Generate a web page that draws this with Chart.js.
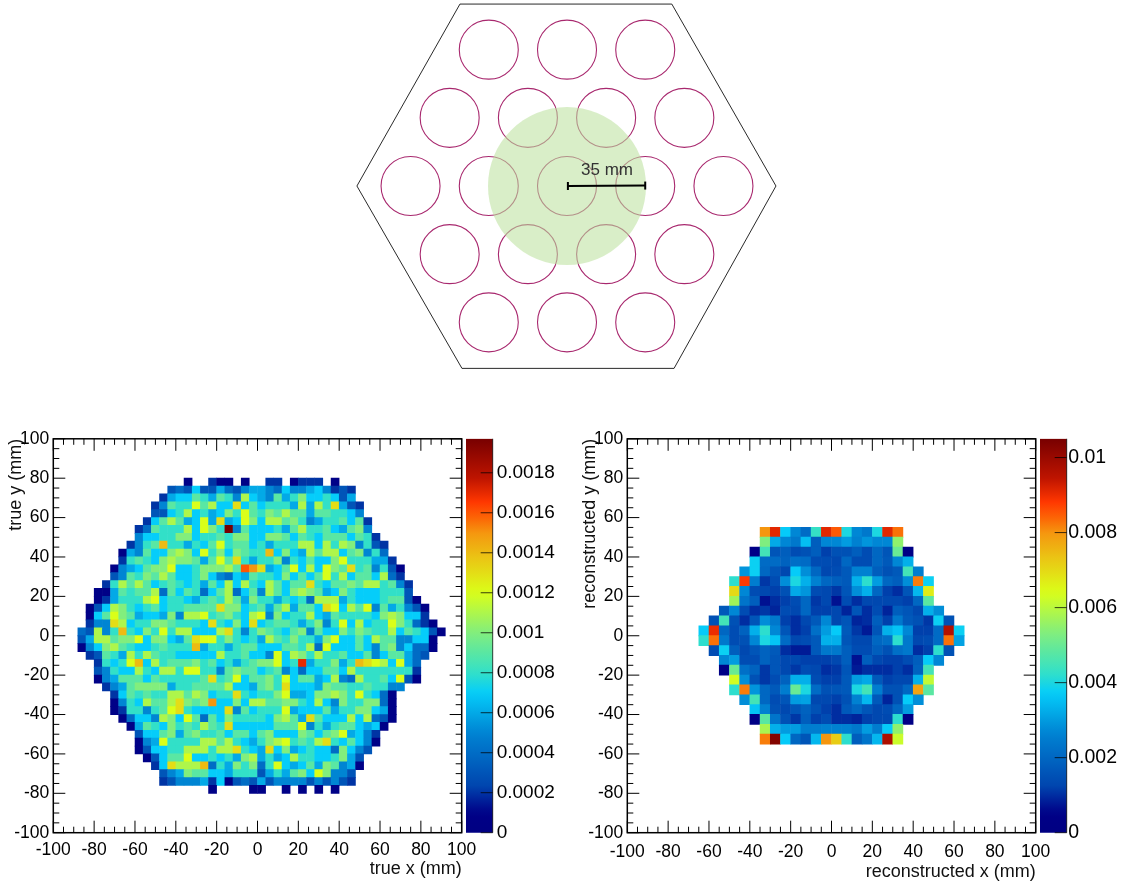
<!DOCTYPE html>
<html><head><meta charset="utf-8">
<script src="https://cdn.jsdelivr.net/npm/chart.js@4"></script>
<style>
html,body{margin:0;padding:0;background:#fff;width:1126px;height:888px;overflow:hidden}
canvas{position:absolute}
</style></head><body>
<canvas id="top" width="1126" height="400" style="left:0;top:0"></canvas>
<canvas id="h1" width="490" height="488" style="left:0;top:400px"></canvas>
<canvas id="p1" width="110" height="488" style="left:460px;top:400px"></canvas>
<canvas id="h2" width="490" height="488" style="left:574px;top:400px"></canvas>
<canvas id="p2" width="86" height="488" style="left:1034px;top:400px"></canvas>
<script>
// ---------- top diagram (millimetres) ----------
const hexX=[-47.9,46.9,93.5,47.9,-47,-94,-47.9];
const hexY=[81.4,81.4,0,-81.6,-81.6,0,81.4];
const holeX=[-35,0,35,-52.5,-17.5,17.5,52.5,-70,-35,0,35,70,-52.5,-17.5,17.5,52.5,-35,0,35];
const holeY=[61,61,61,30.5,30.5,30.5,30.5,0,0,0,0,0,-30.5,-30.5,-30.5,-30.5,-61,-61,-61];
const scaleBarX=[0.4,35];
const scaleBarY=[0,0.2];
const scaleBarLabel='35 mm';

// ---------- left map: true position, 4 mm bins, z in units of 1e-4 ----------
const leftFirstCol=[16,14,13,12,12,11,10,10,9,8,8,7,7,6,5,5,4,4,4,3,3,3,4,5,5,5,6,7,7,7,8,9,10,10,10,11,12,13,13,19];
const leftRows=[
[1,null,null,2,1,1,null,1,null,null,2,2,null,1,2,2,2,null,1],
[3,4,3,7,3,3,6,4,3,5,6,6,5,4,7,5,5,6,7,5,2,3,2],
[2,6,7,7,9,8,6,9,8,5,11,7,6,5,9,6,8,10,7,7,8,7,3,6],
[2,5,9,8,8,12,9,11,7,7,13,7,9,7,8,8,8,6,11,6,11,8,13,6,3,2],
[3,3,7,8,11,7,8,6,7,10,8,12,9,8,10,9,11,9,9,6,9,9,8,8,7,5],
[2,7,9,11,9,6,7,12,6,13,6,7,12,10,7,11,11,9,10,8,5,6,8,8,9,7,9,2],
[2,4,9,8,8,8,11,7,12,10,8,20,5,9,7,7,7,8,6,9,11,8,8,9,7,6,9,10,5],
[5,7,7,8,8,10,10,7,8,8,9,8,10,10,7,7,10,10,9,7,9,8,7,9,9,9,7,9,8,2],
[2,5,8,9,14,8,8,6,8,7,9,12,8,9,9,7,8,6,8,8,8,11,11,7,11,8,11,10,5,8,3,2],
[1,6,5,9,7,7,10,11,10,7,12,8,10,7,10,9,8,8,14,7,10,7,6,11,9,11,11,7,9,10,5,8,4],
[2,8,9,8,7,10,11,10,10,9,6,9,12,9,13,8,6,8,8,10,5,8,7,9,7,7,10,12,8,8,8,6,6,2],
[1,5,6,7,9,10,10,12,7,7,8,10,10,10,11,9,16,15,13,6,7,9,12,7,11,7,12,10,9,13,8,9,5,8,3,1],
[3,5,9,8,10,9,11,9,7,7,8,10,7,5,4,7,6,9,8,8,7,10,7,9,7,9,12,8,11,7,9,9,7,11,4,2],
[2,8,11,9,11,9,7,8,9,8,7,8,6,9,7,11,7,11,8,7,11,9,7,9,9,13,8,7,9,9,10,9,11,11,8,9,5,2],
[1,1,6,9,8,9,9,11,4,9,7,9,8,4,7,9,11,4,7,9,5,11,9,7,10,11,10,9,6,7,10,8,7,7,7,8,8,8,3],
[1,2,6,8,8,8,11,12,7,8,8,7,6,8,9,8,11,9,6,10,8,8,6,8,7,8,4,11,11,11,6,8,7,7,7,8,9,9,3,1],
[1,3,7,11,10,8,7,8,9,7,8,8,9,9,9,9,13,10,10,7,8,9,6,9,11,6,9,9,7,13,12,7,11,9,12,5,9,6,8,5,3,1],
[1,7,9,12,10,9,6,7,7,6,10,5,11,11,12,8,9,10,8,7,11,12,5,10,7,8,8,11,7,6,9,8,8,8,8,7,10,11,10,7,7,2],
[2,5,5,13,11,7,8,8,10,10,9,8,8,8,7,13,8,7,10,7,13,7,8,9,9,8,6,8,10,5,8,12,7,11,7,8,8,12,10,8,4,2,1],
[4,3,11,5,8,14,8,7,10,8,12,8,11,11,7,7,7,11,13,8,5,8,10,9,8,7,9,10,5,9,7,7,10,8,10,9,8,8,11,7,9,8,7,3,1],
[3,6,11,11,9,10,10,12,7,10,10,7,6,9,13,12,12,8,10,8,7,8,6,11,9,8,10,8,8,6,10,12,7,7,9,7,11,9,9,5,5,7,7,1],
[1,5,7,10,11,9,8,7,7,8,9,8,8,8,14,6,8,8,6,8,9,9,7,7,7,9,9,8,11,4,12,7,7,7,9,7,5,9,10,5,7,4,4,1],
[2,3,9,8,6,11,8,11,9,8,8,7,7,7,7,7,11,8,8,9,7,7,5,12,7,11,10,8,11,8,8,9,7,7,9,5,7,9,9,6,4,3],
[2,8,7,8,12,14,7,11,8,9,9,9,10,8,9,7,8,6,8,9,10,10,12,7,8,17,6,8,8,10,6,8,14,13,12,11,7,12,6,4],
[3,5,8,7,7,11,8,7,11,11,8,12,12,8,8,5,9,10,9,9,7,8,9,5,7,4,7,7,9,9,7,11,8,8,8,8,8,8,8,2],
[1,5,6,9,9,9,7,9,8,8,8,8,8,9,13,8,9,12,7,9,9,10,8,12,7,9,9,6,7,11,5,4,11,8,8,9,7,12,3,1],
[2,5,6,9,10,10,10,10,6,8,8,9,9,9,9,11,7,7,6,9,10,8,13,7,7,7,6,10,9,9,8,8,9,8,8,5,5],
[2,7,9,8,9,8,8,11,11,9,11,10,7,8,8,13,8,7,8,8,10,12,6,6,7,10,10,11,10,8,12,8,7,4,1],
[1,5,8,7,11,9,9,11,13,10,9,10,15,7,7,10,7,11,11,9,9,10,10,8,7,11,7,5,10,8,8,10,10,4,1],
[1,2,8,8,5,8,9,12,13,8,7,7,7,7,13,5,9,7,8,8,8,12,6,7,7,7,9,6,8,8,10,10,7,6,1],
[1,4,7,7,5,11,10,7,12,9,4,9,7,10,8,8,8,8,7,10,11,9,6,13,9,7,7,7,11,7,11,4,3,1],
[1,6,9,8,7,10,8,9,8,11,9,8,13,7,7,7,7,7,9,9,9,12,5,8,6,8,9,9,7,6,7,1],
[3,7,7,9,10,6,9,10,8,8,9,7,9,9,7,9,10,7,7,7,10,9,7,9,10,12,6,7,5,2],
[1,5,6,12,8,8,8,8,11,11,9,11,8,7,6,8,10,11,12,8,9,8,11,13,8,7,9,7,5,1],
[1,3,7,7,8,8,11,11,11,8,11,11,13,8,7,6,13,7,10,6,7,8,7,7,4,10,7,5,3],
[1,3,7,9,9,12,7,7,8,7,8,6,10,11,6,8,6,7,11,8,8,7,7,8,10,6,3],
[2,7,13,11,11,11,14,4,8,6,10,8,10,4,8,12,7,6,7,9,6,10,9,5,6,1],
[3,5,6,10,9,9,7,7,6,8,8,8,3,6,8,6,9,10,7,12,10,5,5,3],
[2,3,5,5,5,6,2,7,1,3,4,3,6,3,5,5,5,5,3,5,3,5,3,2],
[1,null,null,null,null,1,1,null,null,1,null,1,null,1,null,1]
];
const leftZMax=0.00197;
const leftZTicks=0.0002;

// ---------- right map: reconstructed position, 5 mm bins, z in units of 1e-4 ----------
const rightFirstCol=[6,6,5,5,4,3,3,3,2,1,0,0,1,2,2,3,3,4,5,5,6,6];
const rightRows=[
[80,91,37,27,21,43,91,85,40,27,24,40,91,83],
[53,32,27,24,35,18,27,27,30,26,29,27,27,55],
[5,45,16,18,14,15,18,12,15,15,18,14,20,16,50,3],
[38,21,21,19,22,21,14,14,13,20,14,14,20,17,27,33],
[29,38,20,16,13,37,28,20,13,14,17,26,26,18,15,17,45,25],
[42,88,25,11,14,28,40,33,26,20,18,17,33,42,30,20,18,28,82,38],
[70,27,14,13,12,15,32,29,14,13,11,16,28,33,20,12,10,16,34,67],
[57,23,18,7,10,12,14,20,11,13,7,14,10,13,13,13,13,12,20,48],
[17,27,14,10,11,9,14,13,20,12,12,13,9,16,10,14,9,18,16,13,33,28],
[15,45,15,10,16,28,24,12,10,13,17,27,13,16,9,10,18,12,24,17,15,11,38,15],
[37,90,20,14,19,33,42,27,16,10,12,22,30,37,17,11,8,16,33,36,27,12,12,21,96,38],
[42,83,24,14,15,27,40,36,21,13,14,17,33,33,16,13,13,20,22,42,24,13,14,21,83,31],
[14,38,18,13,16,19,17,10,8,8,17,24,24,18,14,14,18,15,22,24,10,12,42,15],
[27,30,14,14,19,16,13,13,12,12,12,13,18,7,18,13,12,12,14,18,37,27],
[3,50,22,19,11,16,13,11,14,13,10,11,16,8,10,10,10,12,10,19,45],
[63,28,15,11,14,19,33,33,14,12,12,17,30,32,17,12,13,13,33,61],
[42,82,29,20,17,25,50,40,21,15,16,17,40,45,25,15,15,20,78,48],
[28,45,20,14,16,30,31,13,13,12,15,26,34,17,9,15,37,28],
[36,26,15,13,16,19,15,12,10,17,20,16,13,14,20,30],
[3,48,23,15,11,18,12,14,10,10,9,12,13,13,42,3],
[58,33,30,30,25,25,26,26,26,24,30,25,37,55],
[82,103,37,20,16,34,80,72,42,18,23,34,97,62]
];
const rightZMax=0.0105;
const rightZTicks=0.002;

const axisMin=-100, axisMax=100, axisMajor=20, axisMinor=5;
const xTitles=['true x (mm)','reconstructed x (mm)'];
const yTitles=['true y (mm)','reconstructed y (mm)'];

// ---------- palette ----------
const palStops=[[0,0,0,130],[0.05,0,0,135],[0.12,0,70,175],[0.25,0,130,210],[0.355,5,205,250],[0.406,50,224,200],
 [0.508,130,238,125],[0.609,218,255,25],[0.70,235,195,20],[0.762,245,150,15],[0.80,252,100,5],[0.84,255,55,0],[0.90,190,20,0],[1,120,0,0]];
function pal(f){
  f=Math.max(0,Math.min(1,f));
  for(let i=1;i<palStops.length;i++){
    const a=palStops[i-1],b=palStops[i];
    if(f<=b[0]){const t=(f-a[0])/(b[0]-a[0]);
      return `rgb(${[1,2,3].map(k=>Math.round(a[k]+(b[k]-a[k])*t)).join(',')})`;}
  }
  return 'rgb(120,0,0)';
}

const FONT='"Liberation Sans", Arial, sans-serif';
Chart.defaults.font.family=FONT;
Chart.defaults.animation=false;
Chart.defaults.responsive=false;
Chart.defaults.devicePixelRatio=1;
Chart.defaults.events=[];
Chart.defaults.plugins.legend.display=false;
Chart.defaults.plugins.tooltip.enabled=false;

// ---------- top chart ----------
const pxPerMm=2.235, cx=567, cy=186;
new Chart(document.getElementById('top'),{
  type:'scatter',
  data:{datasets:[
    {data:scaleBarX.map((x,i)=>({x,y:scaleBarY[i]})),showLine:true,borderColor:'#000',borderWidth:2,
     pointStyle:'line',rotation:90,pointRadius:4,pointBorderColor:'#000',pointBorderWidth:2,order:0,clip:false},
    {data:[{x:0,y:0}],pointRadius:79,pointBackgroundColor:'rgba(188,225,158,0.565)',pointBorderWidth:0,order:1,clip:false},
    {data:holeX.map((x,i)=>({x,y:holeY[i]})),pointRadius:29.5,pointBackgroundColor:'rgba(0,0,0,0)',
     pointBorderColor:'#a8286e',pointBorderWidth:1.1,order:2,clip:false},
    {data:hexX.map((x,i)=>({x,y:hexY[i]})),showLine:true,borderColor:'#111',borderWidth:0.9,pointRadius:0,order:3,clip:false}
  ]},
  options:{
    layout:{padding:0,autoPadding:false},
    scales:{
      x:{type:'linear',display:false,bounds:'data',min:-cx/pxPerMm,max:(1126-cx)/pxPerMm},
      y:{type:'linear',display:false,bounds:'data',min:(cy-400)/pxPerMm,max:cy/pxPerMm}
    }
  },
  plugins:[{id:'barLabel',afterDraw(c){
    const g=c.ctx;g.save();g.fillStyle='#333';g.font='17px '+FONT;g.textAlign='center';g.textBaseline='middle';
    g.fillText(scaleBarLabel,c.scales.x.getPixelForValue(17.9),c.scales.y.getPixelForValue(6.9));g.restore();
  }}]
});

// ---------- ROOT-style frame and inward ticks ----------
const frameTicks={id:'frameTicks',afterDatasetsDraw(c){
  const g=c.ctx,a=c.chartArea,sx=c.scales.x,sy=c.scales.y;
  g.save();g.strokeStyle='#000';g.lineWidth=1;g.beginPath();
  for(let v=axisMin;v<=axisMax;v+=axisMinor){
    const L=(v%axisMajor===0)?12:6, px=sx.getPixelForValue(v), py=sy.getPixelForValue(v);
    g.moveTo(px,a.bottom);g.lineTo(px,a.bottom-L);
    g.moveTo(px,a.top);g.lineTo(px,a.top+L);
    g.moveTo(a.left,py);g.lineTo(a.left+L,py);
    g.moveTo(a.right,py);g.lineTo(a.right-L,py);
  }
  g.stroke();g.lineWidth=1.5;g.strokeRect(a.left,a.top,a.right-a.left,a.bottom-a.top);g.restore();
}};

function cellPoints(rows,firstCol,x0,y0,bin,unit,zMax){
  const pts=[],cols=[];
  rows.forEach((r,j)=>r.forEach((v,k)=>{
    if(v===null)return;
    pts.push({x:x0+bin*(firstCol[j]+k)+bin/2,y:y0-bin*j-bin/2});
    cols.push(pal(v*unit/zMax));
  }));
  return {pts,cols};
}

function heatChart(id,cells,bin,ix,tickPad,titlePad){
  new Chart(document.getElementById(id),{
    type:'scatter',
    data:{datasets:[{data:cells.pts,pointStyle:'rect',pointBackgroundColor:cells.cols,pointBorderWidth:0,
      pointRadius(ctx){
        const s=ctx.chart.scales.x;
        return (Math.abs(s.getPixelForValue(bin)-s.getPixelForValue(0))+0.5)/Math.SQRT2;
      }}]},
    options:{
      layout:{padding:{left:0,right:28.3,top:38.8,bottom:0},autoPadding:false},
      scales:{
        x:{type:'linear',bounds:'data',min:axisMin,max:axisMax,position:'bottom',
           grid:{display:false,drawTicks:false},border:{display:false},
           ticks:{stepSize:axisMajor,color:'#000',font:{size:17.5},padding:tickPad,maxRotation:0,autoSkip:false,includeBounds:false},
           title:{display:true,text:xTitles[ix],align:'end',color:'#111',font:{size:18},padding:{top:0,bottom:titlePad}},
           afterFit(s){s.height=55.3;s.paddingLeft=0;s.paddingRight=0;}},
        y:{type:'linear',bounds:'data',min:axisMin,max:axisMax,position:'left',
           grid:{display:false,drawTicks:false},border:{display:false},
           ticks:{stepSize:axisMajor,color:'#000',font:{size:17.5},padding:4,autoSkip:false,includeBounds:false},
           title:{display:true,text:yTitles[ix],align:'end',color:'#111',font:{size:18},padding:{top:5,bottom:0}},
           afterFit(s){s.width=53.3;s.paddingTop=0;s.paddingBottom=0;}}
      }
    },
    plugins:[frameTicks]
  });
}

function paletteChart(id,zMax,step,fmtDigits,canvasW,fontSize,labelPad){
  new Chart(document.getElementById(id),{
    type:'bar',
    data:{labels:['z'],datasets:[{data:[[0,zMax]],barPercentage:1,categoryPercentage:1,borderWidth:0,
      backgroundColor(ctx){
        const c=ctx.chart,a=c.chartArea;
        if(!a)return '#000';
        const gr=c.ctx.createLinearGradient(0,a.bottom,0,a.top);
        for(let i=0;i<=50;i++)gr.addColorStop(i/50,pal(i/50));
        return gr;
      }}]},
    options:{
      layout:{padding:{left:6,right:0,top:38.8,bottom:55.3},autoPadding:false},
      scales:{
        x:{type:'category',display:false},
        y:{type:'linear',bounds:'data',min:0,max:zMax,position:'right',
           grid:{display:false,drawTicks:false},border:{display:false},
           ticks:{stepSize:step,color:'#000',font:{size:fontSize},padding:labelPad,autoSkip:false,includeBounds:false,
             callback:v=>String(+v.toFixed(fmtDigits))},
           afterFit(s){s.width=canvasW-6-26.7;s.paddingTop=0;s.paddingBottom=0;}}
      }
    },
    plugins:[{id:'zTicks',afterDatasetsDraw(c){
      const g=c.ctx,a=c.chartArea,y=c.scales.y;
      g.save();g.strokeStyle='rgba(0,0,0,0.75)';g.lineWidth=1;g.beginPath();
      y.ticks.forEach(t=>{const p=y.getPixelForValue(t.value);g.moveTo(a.right,p);g.lineTo(a.right-12,p);});
      g.moveTo(a.right,a.top);g.lineTo(a.right,a.bottom);g.stroke();g.restore();
    }}]
  });
}

heatChart('h1',cellPoints(leftRows,leftFirstCol,-100,80,4,1e-4,leftZMax),4,0,7,8);
paletteChart('p1',leftZMax,leftZTicks,4,110,19,4);
heatChart('h2',cellPoints(rightRows,rightFirstCol,-65,55,5,1e-4,rightZMax),5,1,9,5);
paletteChart('p2',rightZMax,rightZTicks,3,86,19.5,1.5);
</script>
</body></html>
